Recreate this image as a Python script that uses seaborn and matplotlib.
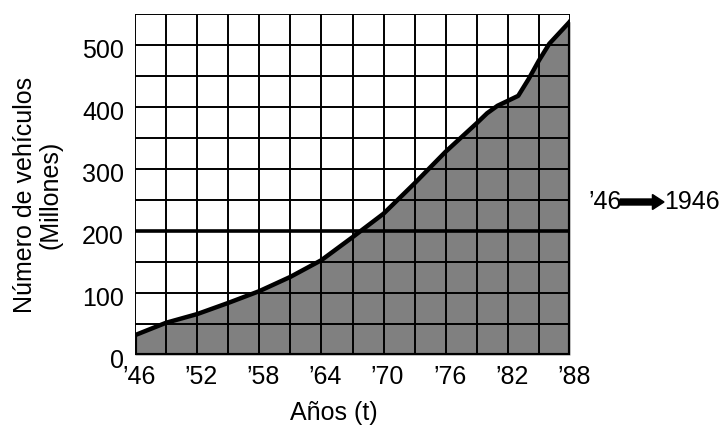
import numpy as np
import pandas as pd
import seaborn as sns
import matplotlib
matplotlib.use("Agg")
import matplotlib.pyplot as plt
from matplotlib import transforms

years = [1946, 1949, 1952, 1955, 1958, 1961, 1964, 1967, 1970, 1973, 1976,
         1979, 1980, 1981, 1982, 1983, 1984, 1985, 1986, 1987, 1988]
vehicles = [32, 52, 66, 84, 103, 126, 153, 190, 228, 277, 328,
            374, 390, 402, 410, 418, 445, 475, 502, 520, 538]
tick_years = [1946, 1952, 1958, 1964, 1970, 1976, 1982, 1988]
tick_labels = ["\u201946", "\u201952", "\u201958", "\u201964", "\u201970",
               "\u201976", "\u201982", "\u201988"]
y_ticks = [0, 100, 200, 300, 400, 500]

sns.set_style("white")
plt.rcParams['font.family'] = ['Liberation Sans', 'DejaVu Sans']
plt.rcParams['text.color'] = 'black'
plt.rcParams['axes.labelcolor'] = 'black'
plt.rcParams['xtick.color'] = 'black'
plt.rcParams['ytick.color'] = 'black'

df = pd.DataFrame({"year": years, "vehicles": vehicles})

fig = plt.figure(figsize=(7.22, 4.28), dpi=100)
ax = fig.add_axes([135/722, 73/428, 435/722, 341/428])

ax.fill_between(df["year"], 0, df["vehicles"], color="#808080", zorder=1,
                linewidth=0)
# grid
for x in range(1946, 1989, 3):
    ax.axvline(x, color="black", lw=1.4, zorder=2)
for y in range(0, 551, 50):
    ax.axhline(y, color="black", lw=2.6 if y == 200 else 1.4, zorder=2)

sns.lineplot(data=df, x="year", y="vehicles", color="black", lw=3.2, ax=ax,
             zorder=3)
ax.plot([1946, 1946], [0, vehicles[0]], color="black", lw=3, zorder=3)
ax.plot([1988, 1988], [0, vehicles[-1]], color="black", lw=3, zorder=3)
ax.plot([1946, 1988], [0, 0], color="black", lw=3, zorder=3)

ax.set_xlim(1946, 1988)
ax.set_ylim(0, 550)
ax.set_xlabel("")
ax.set_ylabel("")
for s in ax.spines.values():
    s.set_visible(False)
ax.set_xticks(tick_years)
ax.set_xticklabels(tick_labels, fontsize=18, color="black")
ax.set_yticks(y_ticks)
ax.set_yticklabels([str(v) for v in y_ticks], fontsize=18, color="black")
ax.tick_params(axis="x", length=0, pad=7.5)
ax.tick_params(axis="y", length=0, pad=8)
shift = transforms.ScaledTranslation(4/100, 0, fig.dpi_scale_trans)
for lab in ax.get_xticklabels():
    lab.set_transform(lab.get_transform() + shift)
vshift = transforms.ScaledTranslation(0, -3/100, fig.dpi_scale_trans)
for lab in ax.get_yticklabels():
    lab.set_transform(lab.get_transform() + vshift)

fig.text(334/722, 1 - 413/428, "Años (t)", fontsize=18, ha="center",
         va="center", color="black")
fig.text(38/722, 1 - 195/428, "Número de vehículos\n(Millones)", fontsize=18,
         rotation=90, ha="center", va="center", multialignment="center",
         linespacing=1.1, color="black")

fig.text(588/722, 1 - 202/428, "\u201946", fontsize=18, va="center", ha="left",
         color="black")
fig.text(664/722, 1 - 202/428, "1946", fontsize=18, va="center", ha="left",
         color="black")
fig.patches.append(matplotlib.patches.FancyArrow(
    620/722, 1 - 202/428, 44/722, 0, width=0.014, head_width=0.035,
    head_length=0.016, length_includes_head=True, color="black",
    transform=fig.transFigure, figure=fig))

fig.savefig("out.png", dpi=100)
